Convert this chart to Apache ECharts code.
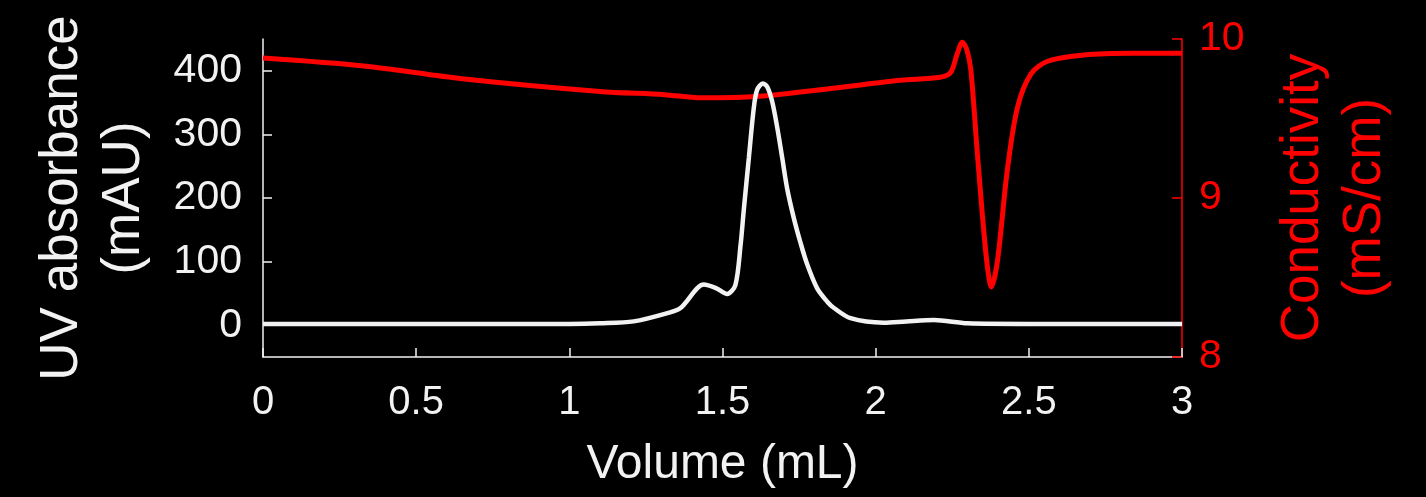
<!DOCTYPE html>
<html>
<head>
<meta charset="utf-8">
<script src="https://cdn.jsdelivr.net/npm/echarts@6/dist/echarts.min.js"></script>
<style>
  html, body { margin: 0; padding: 0; background: #000; }
  #chart { width: 1426px; height: 497px; }
</style>
</head>
<body>
<div id="chart"></div>
<script>
// UV trace (white), volume in mL, absorbance in mAU
const uvVolume = [0, 0.5, 1.0, 1.1, 1.21, 1.32, 1.363, 1.417, 1.439, 1.48, 1.515, 1.542, 1.559, 1.57, 1.586, 1.602, 1.613, 1.632, 1.646, 1.662, 1.679, 1.695, 1.711, 1.733, 1.755, 1.777, 1.809, 1.842, 1.864, 1.918, 2.026, 2.1, 2.19, 2.3, 2.5, 3.0];
const uvValue  = [2, 2, 2, 3, 6, 19, 27, 58, 64, 58, 49, 63, 126, 184, 263, 341, 370, 380, 375, 352, 310, 263, 215, 168, 129, 95, 58, 37, 27, 11, 4, 6, 8, 3, 2, 2];

// conductivity trace (red), mS/cm
const condVolume = [0, 0.33, 0.65, 1.1, 1.31, 1.43, 1.62, 1.86, 2.08, 2.21, 2.245, 2.265, 2.283, 2.298, 2.311, 2.332, 2.36, 2.378, 2.398, 2.43, 2.463, 2.507, 2.561, 2.68, 2.844, 3.0];
const condValue  = [9.88, 9.83, 9.75, 9.67, 9.65, 9.63, 9.64, 9.69, 9.74, 9.76, 9.79, 9.9, 9.98, 9.93, 9.8, 9.28, 8.65, 8.44, 8.61, 9.18, 9.57, 9.78, 9.86, 9.9, 9.91, 9.91];

const uvTicks = [0, 100, 200, 300, 400];

const font = "'Liberation Sans', Arial, sans-serif";
const red = "#ff0000";
const white = "#f2f2f2";

const chart = echarts.init(document.getElementById("chart"));
chart.setOption({
  backgroundColor: "#000",
  animation: false,
  grid: { left: 263, right: 244, top: 39, bottom: 140 },
  xAxis: {
    type: "value",
    min: 0,
    max: 3,
    interval: 0.5,
    name: "Volume (mL)",
    nameLocation: "middle",
    nameGap: 84,
    nameTextStyle: { color: white, fontSize: 48, fontFamily: font },
    axisLine: { onZero: false, lineStyle: { color: white, width: 1.5 } },
    axisTick: { inside: true, length: 9, lineStyle: { color: white, width: 1.5 } },
    axisLabel: { color: white, fontSize: 40, fontFamily: font, margin: 26 },
    splitLine: { show: false }
  },
  yAxis: [
    {
      type: "value",
      min: -50,
      max: 450,
      position: "left",
      name: "UV absorbance\n(mAU)",
      nameLocation: "middle",
      nameRotate: 90,
      nameGap: 108,
      nameTextStyle: { color: white, fontSize: 53, fontFamily: font, lineHeight: 62 },
      axisLine: { show: true, onZero: false, lineStyle: { color: white, width: 1.5 } },
      axisTick: { show: true, inside: true, length: 9, customValues: uvTicks, lineStyle: { color: white, width: 1.5 } },
      axisLabel: { color: white, fontSize: 41, fontFamily: font, margin: 21, customValues: uvTicks },
      splitLine: { show: false }
    },
    {
      type: "value",
      min: 8,
      max: 10,
      interval: 1,
      position: "right",
      name: "Conductivity\n(mS/cm)",
      nameLocation: "middle",
      nameRotate: 90,
      nameGap: 90,
      nameTextStyle: { color: red, fontSize: 53, fontFamily: font, lineHeight: 62 },
      axisLine: { show: true, onZero: false, lineStyle: { color: red, width: 1.5 } },
      axisTick: { show: true, inside: true, length: 10, lineStyle: { color: red, width: 1.5 } },
      axisLabel: { color: red, fontSize: 41, fontFamily: font, margin: 17 },
      splitLine: { show: false }
    }
  ],
  series: [
    {
      name: "Conductivity",
      type: "line",
      yAxisIndex: 1,
      data: condVolume.map((v, i) => [v, condValue[i]]),
      smooth: 0.3,
      showSymbol: false,
      lineStyle: { color: red, width: 5 },
      z: 2
    },
    {
      name: "UV",
      type: "line",
      yAxisIndex: 0,
      data: uvVolume.map((v, i) => [v, uvValue[i]]),
      smooth: 0.3,
      showSymbol: false,
      lineStyle: { color: white, width: 4.5 },
      z: 3
    }
  ]
});
</script>
</body>
</html>
